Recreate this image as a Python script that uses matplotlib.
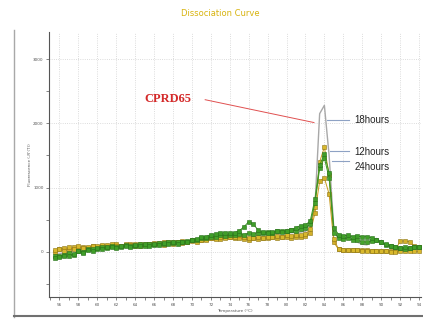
import matplotlib.pyplot as plt
from matplotlib.lines import Line2D
from matplotlib.ticker import MultipleLocator
import numpy as np

# melt curve readings, one every 0.5 degC from 55.5 to 94.0
temp = np.arange(55.5, 94.01, 0.5)

green_a = [-90, -80, -60, -70, -30, 10, -20, 30, 20, 60,
           40, 70, 80, 60, 90, 100, 80, 110, 90, 120,
           100, 130, 110, 140, 120, 150, 130, 160, 150, 180,
           200, 230, 240, 270, 280, 290, 300, 290, 300, 330,
           390, 470, 430, 340, 310, 300, 310, 320, 310, 330,
           340, 380, 410, 420, 480, 820, 1350, 1520, 1230, 380,
           270, 250, 260, 240, 250, 230, 240, 220, 180, 150,
           120, 100, 80, 60, 70, 60, 80, 70]

green_b = [-60, -70, -40, -20, -50, 20, 0, 40, 50, 40,
           70, 60, 90, 80, 70, 110, 100, 90, 120, 100,
           130, 110, 140, 120, 150, 140, 160, 150, 170, 190,
           180, 210, 220, 240, 230, 260, 250, 270, 260, 280,
           270, 290, 280, 300, 290, 310, 300, 320, 330, 320,
           340, 330, 360, 380, 430, 760, 1300, 1460, 1150, 300,
           220, 200, 210, 190, 180, 160, 150, 170, 180, 150,
           110, 90, 70, 60, 50, 60, 70, 80]

yellow_a = [30, 50, 20, 80, 40, 90, 60, 70, 100, 90,
            110, 80, 120, 100, 90, 130, 110, 100, 120, 110,
            130, 120, 140, 110, 150, 130, 160, 140, 150, 170,
            160, 190, 180, 210, 200, 230, 220, 240, 230, 260,
            240, 220, 210, 230, 220, 240, 230, 250, 240, 260,
            250, 270, 260, 280, 350, 700, 1400, 1630, 1200, 200,
            40, 30, 30, 30, 25, 20, 20, 20, 15, 10,
            10, 5, 5, 10, 20, 15, 10, 10]

yellow_b = [0, 40, 60, 30, 70, 50, 80, 60, 90, 70,
            90, 110, 90, 120, 100, 110, 130, 120, 100, 130,
            120, 140, 130, 150, 140, 160, 150, 170, 160, 180,
            190, 180, 200, 220, 210, 200, 230, 240, 220, 210,
            200, 190, 210, 200, 220, 210, 230, 220, 240, 230,
            220, 240, 230, 250, 300, 600, 1100, 1150, 900, 150,
            40, 35, 35, 30, 30, 25, 25, 20, 20, 15,
            15, 10, 20, 170, 170, 160, 90, 80]

grey_18h = [-40, -30, -10, 0, 20, 30, 40, 50, 60, 70,
            70, 80, 90, 90, 100, 100, 110, 110, 120, 120,
            130, 130, 140, 140, 150, 150, 160, 160, 170, 180,
            180, 190, 200, 210, 220, 230, 240, 250, 250, 260,
            270, 280, 270, 260, 270, 270, 280, 280, 290, 290,
            300, 300, 310, 320, 380, 700, 2150, 2280, 1500, 350,
            200, 210, 200, 180, 150, 120, 110, 170, 210, 150,
            110, 90, 70, 60, 60, 60, 60, 60]

x_ticks = list(range(56, 95, 2))
y_ticks = [0, 1000, 2000, 3000]

fig = plt.figure(figsize=(4.23, 3.2), dpi=100)
ax = fig.add_axes([0.116, 0.072, 0.879, 0.828])

ax.plot(temp, grey_18h, color='#a8a8a8', lw=1.0, zorder=2)
for vals, face, edge, line in [(yellow_b, '#d2b02a', '#8c7412', '#c79a1e'),
                               (yellow_a, '#d8b82c', '#8c7412', '#c79a1e'),
                               (green_b, '#45a32c', '#2a7318', '#3c9422'),
                               (green_a, '#3f9e28', '#27701a', '#3c9422')]:
    ax.plot(temp, vals, color=line, lw=0.7, marker='s', ms=2.9,
            mfc=face, mec=edge, mew=0.4, zorder=3)

ax.set_xlim(54.9, 94.2)
ax.set_ylim(-700, 3420)
ax.set_xticks(x_ticks)
ax.set_yticks(y_ticks)
ax.xaxis.set_minor_locator(MultipleLocator(1))
ax.yaxis.set_minor_locator(MultipleLocator(500))
ax.tick_params(which='both', labelsize=3, colors='#555555', length=2, width=0.5, pad=2)
ax.grid(True, which='major', color='#d0d0d0', ls=':', lw=0.6)

for s in ['top', 'right']:
    ax.spines[s].set_visible(False)
for s in ['left', 'bottom']:
    ax.spines[s].set_color('#555555')
    ax.spines[s].set_linewidth(0.8)

ax.set_xlabel('Temperature (\u00b0C)', fontsize=3, color='#555555', labelpad=2)
ax.set_ylabel("Fluorescence (-R'(T))", fontsize=3, color='#555555', labelpad=1)

fig.text(0.52, 0.957, 'Dissociation Curve', color='#d8b410', fontsize=6,
         ha='center', va='center')

# sample label with pointer to the peak
ax.text(65.0, 2372, 'CPRD65', color='#d42a2a', fontsize=9, fontweight='bold',
        family='Liberation Serif', va='center', ha='left')
ax.plot([71.4, 82.9], [2367, 2012], color='#e05050', lw=0.7, zorder=4)

# time point labels
for label, y_line, y_text, x0 in [('18hours', 2057, 2047, 84.3),
                                  ('12hours', 1565, 1555, 84.6),
                                  ('24hours', 1410, 1318, 84.8)]:
    ax.plot([x0, 86.6], [y_line, y_line], color='#8ea2c4', lw=0.8, zorder=4)
    ax.text(87.2, y_text, label, fontsize=7, family='Liberation Sans',
            color='#222222', va='center', ha='left')

# panel frame around the plot window
fig.add_artist(Line2D([0.033, 0.033], [0.01, 0.905], color='#a8a8a8', lw=1.0))
fig.add_artist(Line2D([0.033, 1.0], [0.011, 0.011], color='#707070', lw=1.5))

fig.savefig('out.png', dpi=100)
